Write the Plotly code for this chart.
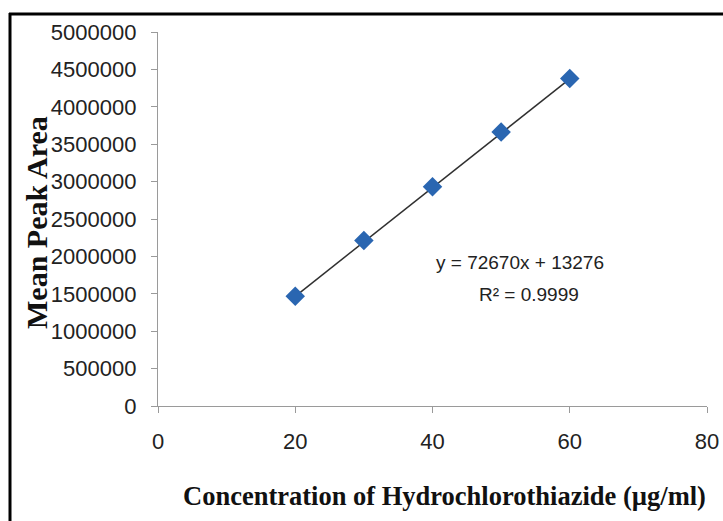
import plotly.graph_objects as go

# ---- data ----
concentration = [20, 30, 40, 50, 60]
mean_peak_area = [1468000, 2212000, 2930000, 3662000, 4378000]
slope = 72670
intercept = 13276
r_squared = 0.9999
x_ticks = [0, 20, 40, 60, 80]
y_ticks = [0, 500000, 1000000, 1500000, 2000000, 2500000, 3000000, 3500000,
           4000000, 4500000, 5000000]

x_title = "Concentration of Hydrochlorothiazide (µg/ml)"
y_title = "Mean Peak Area"

# ---- figure ----
W, H = 723, 521
L, R, T, B = 158, 16, 32, 115
pw, ph = W - L - R, H - T - B

fig = go.Figure()

# trend line from the reported regression
x_fit = [min(concentration), max(concentration)]
y_fit = [slope * x + intercept for x in x_fit]
fig.add_trace(go.Scatter(x=x_fit, y=y_fit, mode="lines",
                         line=dict(color="#303030", width=1.5),
                         hoverinfo="skip", showlegend=False))

fig.add_trace(go.Scatter(x=concentration, y=mean_peak_area, mode="markers",
                         marker=dict(symbol="diamond", size=15, color="#2A66B1",
                                     line=dict(width=0)),
                         showlegend=False))

tick_font = dict(family="Liberation Sans, Arial, sans-serif", size=22, color="#222222")
title_font = dict(family="Liberation Serif, Times New Roman, serif", color="#111111")

fig.update_xaxes(range=[0, 80], tickvals=x_ticks, ticktext=[str(v) for v in x_ticks],
                 showgrid=False, zeroline=False, showline=True, linecolor="#9A9A9A",
                 linewidth=1.3, ticks="outside", ticklen=6, tickcolor="#9A9A9A",
                 tickfont=tick_font, ticklabelstandoff=9)
fig.update_yaxes(range=[0, 5000000], tickvals=y_ticks, ticktext=[str(v) for v in y_ticks],
                 showgrid=False, zeroline=False, showline=True, linecolor="#9A9A9A",
                 linewidth=1.3, ticks="outside", ticklen=6, tickcolor="#9A9A9A",
                 tickfont=tick_font, ticklabelstandoff=10)

def px_x(px):
    return (px - L) / pw

def px_y(py):
    return (H - B - py) / ph

annotations = [
    dict(text="<b>%s</b>" % x_title, xref="paper", yref="paper",
         x=px_x(444), y=px_y(496), showarrow=False, xanchor="center", yanchor="middle",
         font=dict(size=26.5, **title_font)),
    dict(text="<b>%s</b>" % y_title, xref="paper", yref="paper",
         x=px_x(36), y=px_y(223), showarrow=False, textangle=-90,
         xanchor="center", yanchor="middle",
         font=dict(size=30, **title_font)),
    dict(text="y = %dx + %d" % (slope, intercept), xref="paper", yref="paper",
         x=px_x(520), y=px_y(262), showarrow=False, xanchor="center", yanchor="middle",
         font=dict(family="Liberation Sans, Arial, sans-serif", size=19, color="#222222")),
    dict(text="R² = %.4f" % r_squared, xref="paper", yref="paper",
         x=px_x(529), y=px_y(294), showarrow=False, xanchor="center", yanchor="middle",
         font=dict(family="Liberation Sans, Arial, sans-serif", size=19, color="#222222")),
]

shapes = [
    dict(type="line", xref="paper", yref="paper", x0=px_x(9), x1=px_x(730),
         y0=px_y(14), y1=px_y(14), line=dict(color="black", width=3)),
    dict(type="line", xref="paper", yref="paper", x0=px_x(10), x1=px_x(10),
         y0=px_y(13), y1=px_y(530), line=dict(color="black", width=3)),
]

fig.update_layout(width=W, height=H, margin=dict(l=L, r=R, t=T, b=B, autoexpand=False),
                  paper_bgcolor="white", plot_bgcolor="white",
                  annotations=annotations, shapes=shapes, showlegend=False)

fig.write_html("out.html", config={"displayModeBar": False},
               post_script="document.body.style.margin='0';document.body.style.overflow='hidden';")
